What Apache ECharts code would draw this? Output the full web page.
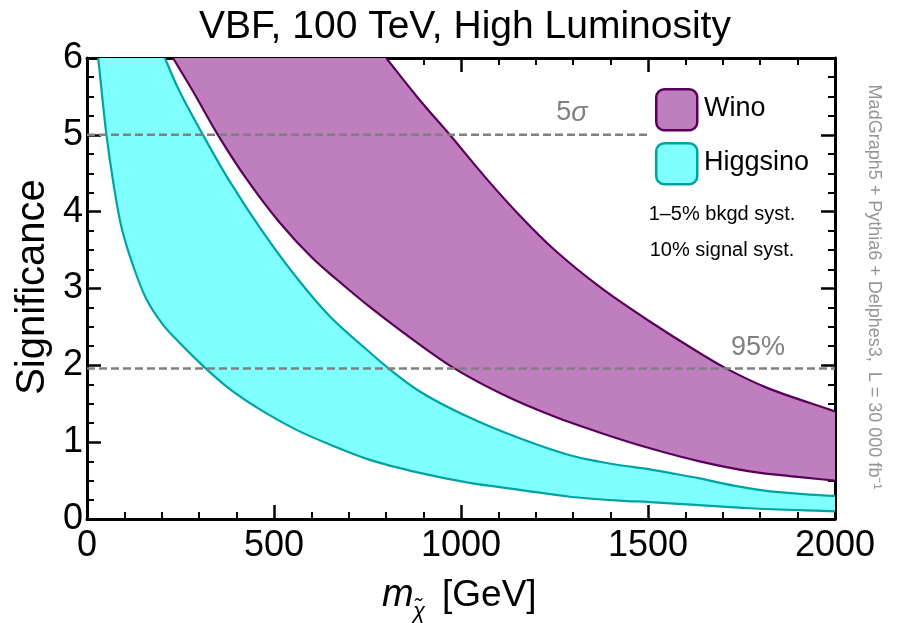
<!DOCTYPE html>
<html><head><meta charset="utf-8">
<script src="https://cdn.jsdelivr.net/npm/echarts@6/dist/echarts.min.js"></script>
<style>html,body{margin:0;padding:0;background:#fff}#c{width:897px;height:623px}</style>
</head><body><div id="c"></div>
<script>
// Significance bands (x: m_chi in GeV, y: significance)
const higgsinoLower = [[30,6],[52,5.0],[70,4.39],[92,3.80],[123,3.30],[159,2.86],[203,2.53],[248,2.29],[315,1.97],[382,1.69],[471,1.40],[560,1.16],[649,0.97],[756,0.77],[890,0.60],[1023,0.47],[1157,0.38],[1291,0.29],[1424,0.24],[1505,0.22],[1638,0.18],[1772,0.14],[2000,0.10]];
const higgsinoUpper = [[208,6],[248,5.56],[310,5.0],[382,4.39],[471,3.73],[564,3.12],[649,2.64],[756,2.17],[809,1.95],[890,1.66],[1023,1.32],[1157,1.05],[1291,0.83],[1371,0.745],[1424,0.70],[1505,0.647],[1558,0.60],[1638,0.529],[1726,0.438],[1817,0.366],[1905,0.327],[2000,0.30]];
const winoLower = [[230,6],[283,5.57],[350,5.0],[426,4.43],[515,3.86],[604,3.39],[667,3.12],[756,2.76],[845,2.43],[979,1.97],[1112,1.62],[1246,1.34],[1380,1.11],[1505,0.92],[1638,0.75],[1772,0.62],[1906,0.545],[2000,0.50]];
const winoUpper = [[800,6],[885,5.48],[970,5.0],[1068,4.43],[1157,3.95],[1246,3.52],[1371,3.02],[1505,2.57],[1638,2.16],[1705,1.97],[1817,1.71],[2000,1.40]];
const fiveSigmaLine = [[0,5],[1500,5]];
const cl95Line = [[0,1.96],[2000,1.96]];

const FONT = 'Liberation Sans, Arial, sans-serif';
const chart = echarts.init(document.getElementById('c'), null, {renderer:'canvas'});

// centripetal Catmull-Rom spline through pixel points -> SVG cubic segments
function splineSegs(pts) {
  let d = '';
  const n = pts.length;
  const f = v => v.toFixed(2);
  for (let i = 0; i < n - 1; i++) {
    const p1 = pts[i], p2 = pts[i + 1];
    const p0 = i > 0 ? pts[i - 1] : [2 * p1[0] - p2[0], 2 * p1[1] - p2[1]];
    const p3 = i + 2 < n ? pts[i + 2] : [2 * p2[0] - p1[0], 2 * p2[1] - p1[1]];
    const L01 = Math.hypot(p1[0] - p0[0], p1[1] - p0[1]) || 1e-6;
    const L12 = Math.hypot(p2[0] - p1[0], p2[1] - p1[1]) || 1e-6;
    const L23 = Math.hypot(p3[0] - p2[0], p3[1] - p2[1]) || 1e-6;
    const d1 = Math.sqrt(L01), d2 = Math.sqrt(L12), d3 = Math.sqrt(L23);
    const a = 2 * L01 + 3 * d1 * d2 + L12, b = 3 * d1 * (d1 + d2);
    const c = 2 * L23 + 3 * d3 * d2 + L12, e = 3 * d3 * (d3 + d2);
    const c1x = (L01 * p2[0] - L12 * p0[0] + a * p1[0]) / b;
    const c1y = (L01 * p2[1] - L12 * p0[1] + a * p1[1]) / b;
    const c2x = (L23 * p1[0] - L12 * p3[0] + c * p2[0]) / e;
    const c2y = (L23 * p1[1] - L12 * p3[1] + c * p2[1]) / e;
    d += ' C' + f(c1x) + ' ' + f(c1y) + ' ' + f(c2x) + ' ' + f(c2y) + ' ' + f(p2[0]) + ' ' + f(p2[1]);
  }
  return d;
}
function openPath(pts) { return 'M' + pts[0][0].toFixed(2) + ' ' + pts[0][1].toFixed(2) + splineSegs(pts); }

function band(name, lower, upper, fill, stroke) {
  return {
    name, type:'custom', clip:true, silent:true, z:2,
    xAxisIndex:0, yAxisIndex:0,
    data:[[0,0]],
    renderItem(params, api) {
      const lo = lower.map(p => api.coord(p));
      const up = upper.map(p => api.coord(p));
      const upR = up.slice().reverse();
      const fillPath = openPath(lo) + ' L' + upR[0][0].toFixed(2) + ' ' + upR[0][1].toFixed(2) + splineSegs(upR) + ' Z';
      return {type:'group', children:[
        {type:'path', shape:{pathData:fillPath}, style:{fill:fill, stroke:null}},
        {type:'path', shape:{pathData:openPath(lo)}, style:{fill:null, stroke:stroke, lineWidth:2.2}},
        {type:'path', shape:{pathData:openPath(up)}, style:{fill:null, stroke:stroke, lineWidth:2.2}}
      ]};
    }
  };
}

const axisCommon = {
  type:'value', splitLine:{show:false},
  axisLine:{onZero:false, lineStyle:{color:'#000', width:3}},
  axisTick:{inside:true, length:14, lineStyle:{color:'#000', width:2.5}},
};

const option = {
  animation:false,
  backgroundColor:'#fff',
  title:{text:'VBF, 100 TeV, High Luminosity', left:460, textAlign:'center', top:3,
    textStyle:{fontFamily:FONT, fontSize:39, fontWeight:'normal', color:'#000'}},
  grid:{left:87, right:62, top:58, bottom:104},
  xAxis:[
    Object.assign({}, axisCommon, {min:0, max:2000, interval:500, position:'bottom',
      minorTick:{show:true, splitNumber:5, length:7, lineStyle:{color:'#000', width:2}},
      axisLabel:{fontFamily:FONT, fontSize:36, color:'#000', margin:9, formatter: v => String(v)}}),
    Object.assign({}, axisCommon, {min:0, max:2000, interval:500, position:'top',
      minorTick:{show:true, splitNumber:5, length:7, lineStyle:{color:'#000', width:2}},
      axisLabel:{show:false}})
  ],
  yAxis:[
    Object.assign({}, axisCommon, {min:0, max:6, interval:1, position:'left',
      minorTick:{show:true, splitNumber:4, length:7, lineStyle:{color:'#000', width:2}},
      axisLabel:{fontFamily:FONT, fontSize:36, color:'#000', margin:4}}),
    Object.assign({}, axisCommon, {min:0, max:6, interval:1, position:'right',
      minorTick:{show:true, splitNumber:4, length:7, lineStyle:{color:'#000', width:2}},
      axisLabel:{show:false}})
  ],
  series:[
    band('Wino', winoLower, winoUpper, '#bf7fbf', '#5a005a'),
    band('Higgsino', higgsinoLower, higgsinoUpper, '#80ffff', '#00a3a3'),
    {type:'line', data:fiveSigmaLine, symbol:'none', z:5, silent:true,
      lineStyle:{color:'#808080', width:2.5, type:[8,4]}},
    {type:'line', data:cl95Line, symbol:'none', z:5, silent:true,
      lineStyle:{color:'#808080', width:2.5, type:[8,4]}}
  ],
  graphic:[
    {type:'rect', left:655, top:88, shape:{width:41, height:41, r:8}, z:100,
      style:{fill:'#bf7fbf', stroke:'#5a005a', lineWidth:2.5}},
    {type:'rect', left:655, top:142, shape:{width:41, height:41, r:8}, z:100,
      style:{fill:'#80ffff', stroke:'#00a3a3', lineWidth:2.5}},
    {type:'text', x:704, y:109, z:100, style:{text:'Wino', font:'27px '+FONT, fill:'#000', textAlign:'left', textVerticalAlign:'middle'}},
    {type:'text', x:704, y:163, z:100, style:{text:'Higgsino', font:'27px '+FONT, fill:'#000', textAlign:'left', textVerticalAlign:'middle'}},
    {type:'text', x:722, y:214, z:100, style:{text:'1\u20135% bkgd syst.', font:'20px '+FONT, fill:'#000', textAlign:'center', textVerticalAlign:'middle'}},
    {type:'text', x:722, y:250, z:100, style:{text:'10% signal syst.', font:'20px '+FONT, fill:'#000', textAlign:'center', textVerticalAlign:'middle'}},
    {type:'text', x:572, y:113, z:100, style:{text:'{a|5}{b|\u03c3}', fill:'#808080', textAlign:'center', textVerticalAlign:'middle',
      rich:{a:{fontFamily:FONT, fontSize:27, color:'#808080'}, b:{fontFamily:FONT, fontSize:27, fontStyle:'italic', color:'#808080'}}}},
    {type:'text', x:758, y:348, z:100, style:{text:'95%', font:'27px '+FONT, fill:'#808080', textAlign:'center', textVerticalAlign:'middle'}},
    {type:'text', x:874, y:287, rotation:-Math.PI/2, z:100, style:{text:'MadGraph5 + Pythia6 + Delphes3,  L = 30 000 fb\u207b\u00b9', font:'18px '+FONT, fill:'#959595', textAlign:'center', textVerticalAlign:'middle'}},
    {type:'text', x:33, y:287, rotation:Math.PI/2, z:100, style:{text:'Significance', font:'40px '+FONT, fill:'#000', textAlign:'center', textVerticalAlign:'middle'}},
    {type:'text', x:382, y:595, z:100, style:{text:'m', font:'italic 38px '+FONT, fill:'#000', textAlign:'left', textVerticalAlign:'middle'}},
    {type:'text', x:413, y:612, z:100, style:{text:'\u03c7\u0303', font:'italic 22px '+FONT, fill:'#000', textAlign:'left', textVerticalAlign:'middle'}},
    {type:'text', x:442, y:596, z:100, style:{text:'[GeV]', font:'37px '+FONT, fill:'#000', textAlign:'left', textVerticalAlign:'middle'}}
  ]
};
chart.setOption(option);
</script>
</body></html>
